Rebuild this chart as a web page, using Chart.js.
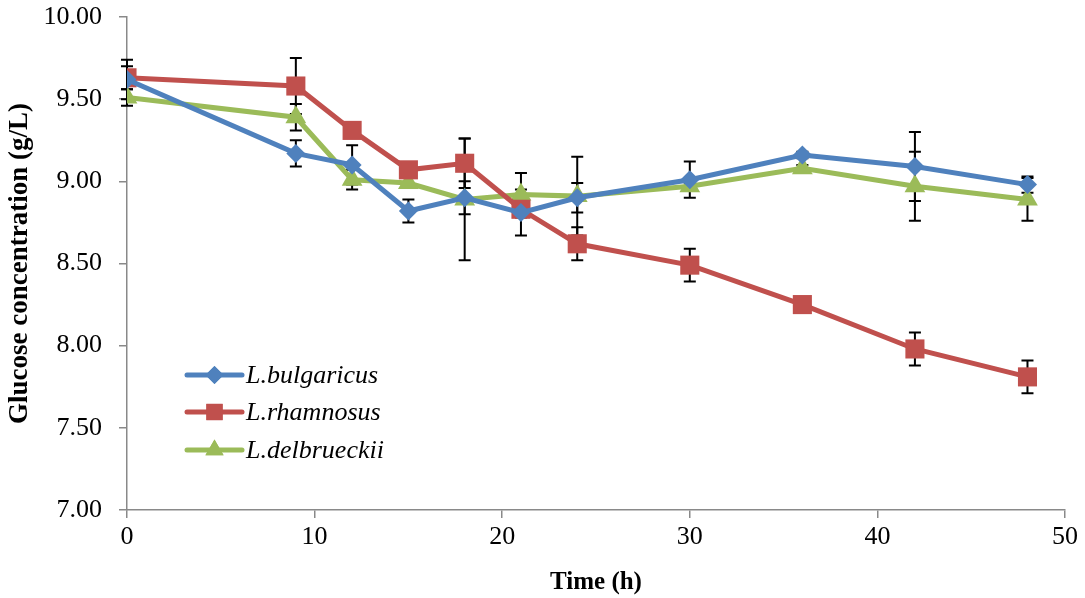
<!DOCTYPE html>
<html>
<head>
<meta charset="utf-8">
<script src="https://cdn.jsdelivr.net/npm/chart.js@4"></script>
<style>
html,body{margin:0;padding:0;background:#fff;}
#wrap{width:1085px;height:598px;}
</style>
</head>
<body>
<div id="wrap"><canvas id="c" width="1085" height="598"></canvas></div>
<script>
const times = [0, 9, 12, 15, 18, 21, 24, 30, 36, 42, 48];
const seriesNames = ["L.bulgaricus", "L.rhamnosus", "L.delbrueckii"];
const bulgaricus = [9.62, 9.17, 9.10, 8.82, 8.90, 8.81, 8.90, 9.01, 9.16, 9.09, 8.98];
const rhamnosus  = [9.63, 9.58, 9.31, 9.07, 9.11, 8.83, 8.62, 8.49, 8.25, 7.98, 7.81];
const delbrueckii = [9.51, 9.39, 9.01, 8.99, 8.89, 8.92, 8.91, 8.97, 9.08, 8.97, 8.89];
const bulgaricusErr = [0.12, 0.08, 0.12, 0.07, 0.10, 0.14, 0.09, 0.11, 0.02, 0.21, 0.05];
const rhamnosusErr  = [0.07, 0.17, 0.03, 0.03, 0.15, 0.05, 0.10, 0.10, 0.02, 0.10, 0.10];
const delbrueckiiErr = [0.05, 0.08, 0.06, 0.03, 0.37, 0.13, 0.24, 0.02, 0.02, 0.21, 0.13];
const yTicks = [7.00, 7.50, 8.00, 8.50, 9.00, 9.50, 10.00];
const xTicks = [0, 10, 20, 30, 40, 50];

const colors = ["#4F81BD", "#C0504D", "#9BBB59"];
const styles = ["rectRot", "rect", "triangle"];
const radii = [9.5, 13.5, 12];
const values = [bulgaricus, rhamnosus, delbrueckii];
const errs = [bulgaricusErr, rhamnosusErr, delbrueckiiErr];

const datasets = values.map((vals, i) => ({
  label: seriesNames[i],
  data: times.map((t, j) => ({x: t, y: vals[j]})),
  errors: errs[i],
  borderColor: colors[i],
  backgroundColor: colors[i],
  borderWidth: 5,
  pointStyle: styles[i],
  pointRadius: radii[i],
  pointBorderWidth: 0,
  pointBackgroundColor: colors[i],
  tension: 0,
  fill: false
}));

const errorBars = {
  id: 'errorBars',
  beforeDatasetsDraw(chart) {
    const ctx = chart.ctx, xs = chart.scales.x, ys = chart.scales.y;
    ctx.save();
    ctx.strokeStyle = '#000';
    ctx.lineWidth = 2;
    chart.data.datasets.forEach(ds => {
      ds.data.forEach((p, j) => {
        const e = ds.errors[j];
        const px = xs.getPixelForValue(p.x);
        const top = ys.getPixelForValue(p.y + e);
        const bot = ys.getPixelForValue(p.y - e);
        ctx.beginPath();
        ctx.moveTo(px, top); ctx.lineTo(px, bot);
        ctx.moveTo(px - 6, top); ctx.lineTo(px + 6, top);
        ctx.moveTo(px - 6, bot); ctx.lineTo(px + 6, bot);
        ctx.stroke();
      });
    });
    ctx.restore();
  }
};

const customLegend = {
  id: 'customLegend',
  afterDraw(chart) {
    const ctx = chart.ctx;
    const x0 = 187, x1 = 242, rows = [375, 412, 450];
    const lr = [9, 11.5, 10.5];
    ctx.save();
    chart.data.datasets.forEach((ds, i) => {
      const y = rows[i];
      ctx.strokeStyle = ds.borderColor;
      ctx.lineWidth = 5;
      ctx.lineCap = 'round';
      ctx.beginPath(); ctx.moveTo(x0, y); ctx.lineTo(x1, y); ctx.stroke();
      ctx.fillStyle = ds.borderColor;
      Chart.helpers.drawPoint(ctx, {pointStyle: ds.pointStyle, radius: lr[i], borderWidth: 0}, (x0 + x1) / 2, y);
      ctx.fill();
      ctx.fillStyle = '#000';
      ctx.font = 'italic 26px "Liberation Serif"';
      ctx.textBaseline = 'middle';
      ctx.textAlign = 'left';
      ctx.fillText(ds.label, 246, y + 1);
    });
    ctx.restore();
  }
};

new Chart(document.getElementById('c'), {
  type: 'line',
  data: {datasets},
  plugins: [errorBars, customLegend],
  options: {
    responsive: false,
    animation: false,
    layout: {padding: {top: 17, right: 20, left: 0, bottom: 0}},
    plugins: {legend: {display: false}, tooltip: {enabled: false}},
    scales: {
      x: {
        type: 'linear', min: 0, max: 50,
        afterBuildTicks: s => { s.ticks = xTicks.map(v => ({value: v})); },
        afterFit: s => { s.height = 88; },
        border: {color: '#898989', width: 1.5},
        grid: {drawOnChartArea: false, drawTicks: true, tickLength: 8, color: '#898989', lineWidth: 1.5},
        ticks: {color: '#000', font: {family: 'Liberation Serif', size: 26}, padding: 4, maxRotation: 0},
        title: {display: true, text: 'Time (h)', color: '#000', font: {family: 'Liberation Serif', size: 25, weight: 'bold'}, padding: {top: 0, bottom: 0}}
      },
      y: {
        type: 'linear', min: 7, max: 10,
        afterBuildTicks: s => { s.ticks = yTicks.map(v => ({value: v})); },
        afterFit: s => { s.width = 127; s.paddingTop = 0; s.paddingBottom = 0; },
        border: {color: '#898989', width: 1.5},
        grid: {drawOnChartArea: false, drawTicks: true, tickLength: 8, color: '#898989', lineWidth: 1.5},
        ticks: {color: '#000', font: {family: 'Liberation Serif', size: 26}, padding: 17, callback: v => Number(v).toFixed(2)},
        title: {display: true, text: 'Glucose concentration (g/L)', color: '#000', font: {family: 'Liberation Serif', size: 27, weight: 'bold'}, padding: {top: 4, bottom: 4}}
      }
    }
  }
});
</script>
</body>
</html>
